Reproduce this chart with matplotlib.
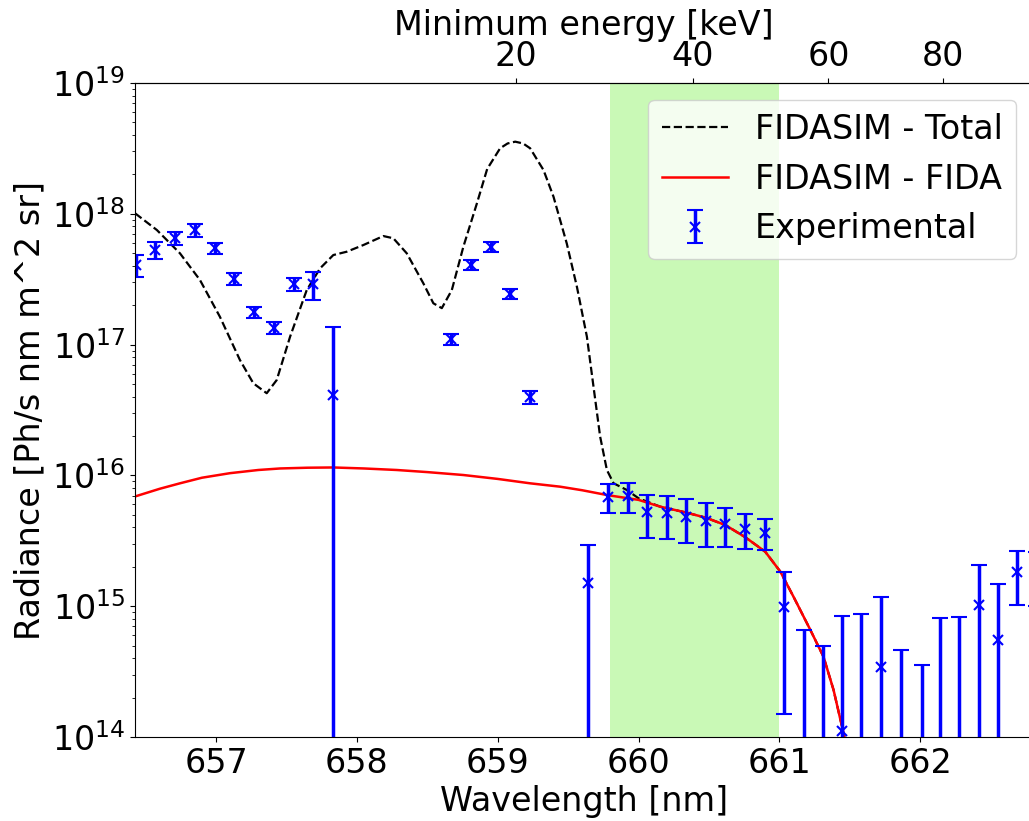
import numpy as np
import matplotlib
matplotlib.use('Agg')
import matplotlib.pyplot as plt

# FIDASIM total (knots); beyond ~660 nm it follows the FIDA curve
tot_wl = [656.425, 656.58, 656.744, 656.886, 657.028, 657.17, 657.265, 657.36,
          657.431, 657.526, 657.644, 657.739, 657.833, 657.928, 658.046, 658.188,
          658.259, 658.354, 658.472, 658.543, 658.603, 658.674, 658.756, 658.852,
          658.925, 659.017, 659.07, 659.124, 659.18, 659.23, 659.325, 659.396,
          659.49, 659.562, 659.633, 659.68, 659.727, 659.775, 659.822, 659.917, 660.0]
tot_val = [1.01e18, 7.52e17, 4.99e17, 3.12e17, 1.63e17, 7.62e16, 5.06e16, 4.25e16,
           5.36e16, 1.15e17, 2.61e17, 3.83e17, 4.84e17, 5.13e17, 5.77e17, 6.76e17,
           6.50e17, 4.99e17, 2.94e17, 2.07e17, 1.90e17, 2.61e17, 5.60e17, 1.20e18,
           2.20e18, 3.17e18, 3.45e18, 3.56e18, 3.45e18, 3.17e18, 2.16e18, 1.35e18,
           5.94e17, 2.77e17, 1.15e17, 4.76e16, 1.98e16, 1.10e16, 8.71e15, 7.73e15, 6.68e15]

# FIDASIM FIDA
fida_wl = [656.425, 656.6, 656.744, 656.9, 657.099, 657.3, 657.455, 657.65, 657.833,
           658.05, 658.283, 658.5, 658.756, 659.0, 659.23, 659.443, 659.6, 659.775,
           660.0, 660.153, 660.338, 660.477, 660.615, 660.757, 660.899, 661.006,
           661.10, 661.219, 661.313, 661.384, 661.45, 661.49]
fida_val = [6.9e15, 7.9e15, 8.7e15, 9.6e15, 1.04e16, 1.10e16, 1.13e16, 1.145e16, 1.15e16,
            1.13e16, 1.10e16, 1.06e16, 1.007e16, 9.4e15, 8.7e15, 8.2e15, 7.7e15, 7.08e15,
            6.5e15, 5.77e15, 5.2e15, 4.75e15, 4.18e15, 3.37e15, 2.61e15, 1.84e15,
            1.18e15, 6.6e14, 4.1e14, 2.29e14, 1.13e14, 7e13]

# experimental points and 1-sigma errors
exp_wl = [656.43, 656.567, 656.709, 656.851, 656.993, 657.128, 657.27, 657.41,
          657.554, 657.687, 657.833, 658.667, 658.809, 658.951, 659.088, 659.23,
          659.644, 659.786, 659.924, 660.063, 660.2, 660.338, 660.477, 660.615,
          660.757, 660.899, 661.034, 661.171, 661.306, 661.444, 661.58, 661.722,
          661.862, 662.011, 662.142, 662.277, 662.414, 662.551, 662.687, 662.82]
exp_val = [4.06e17, 5.28e17, 6.5e17, 7.5e17, 5.5e17, 3.2e17, 1.77e17, 1.35e17,
           2.9e17, 2.9e17, 4.12e16, 1.1e17, 4.08e17, 5.6e17, 2.45e17, 3.97e16,
           1.5e15, 6.87e15, 6.95e15, 5.22e15, 5.13e15, 4.83e15, 4.5e15, 4.25e15,
           3.89e15, 3.65e15, 9.9e14, -1.0e14, -2.0e14, 1.12e14, -0.5e14, 3.44e14,
           -3.0e14, -4.0e14, -1.0e14, -0.5e14, 1.02e15, 5.52e14, 1.82e15, 1.8e15]
exp_err = [0.78e17, 0.8e17, 0.7e17, 0.8e17, 0.53e17, 0.32e17, 0.18e17, 0.135e17,
           0.32e17, 0.72e17, 9.5e16, 0.11e17, 0.38e17, 0.52e17, 0.22e17, 0.43e16,
           1.44e15, 1.74e15, 1.8e15, 1.87e15, 1.85e15, 1.77e15, 1.67e15, 1.41e15,
           1.17e15, 0.96e15, 8.4e14, 7.6e14, 7.0e14, 7.3e14, 9.2e14, 8.3e14,
           7.6e14, 7.55e14, 9.1e14, 8.8e14, 1.03e15, 9.3e14, 0.8e15, 0.8e15]

band = (659.8, 661.0)
energy_ticks = [20, 40, 60, 80]

lam0 = 656.1
kfac = 0.5 * 1875613.0 / lam0 ** 2  # keV per nm^2 for deuterium


def wl2e(wl):
    d = np.asarray(wl, dtype=float) - lam0
    return kfac * d * np.abs(d)


def e2wl(e):
    e = np.asarray(e, dtype=float)
    return lam0 + np.sign(e) * np.sqrt(np.abs(e) / kfac)


plt.rcParams['font.size'] = 24
plt.rcParams['font.family'] = 'DejaVu Sans'

fig = plt.figure(figsize=(10.29, 8.21), dpi=100)
ax = fig.add_axes([0.1312, 0.1023, 0.8727, 0.7966])
ax.set_yscale('log')

tot_wl_full = np.concatenate([tot_wl, np.array(fida_wl)[np.array(fida_wl) > 660.05]])
tot_val_full = np.concatenate([tot_val, np.array(fida_val)[np.array(fida_wl) > 660.05]])

ax.axvspan(band[0], band[1], color='#c9f9b6', lw=0, zorder=0)
ax.plot(tot_wl_full, tot_val_full, 'k--', lw=1.6, label='FIDASIM - Total')
ax.plot(fida_wl, fida_val, 'r-', lw=1.8, label='FIDASIM - FIDA')
ax.errorbar(exp_wl, exp_val, yerr=exp_err, fmt='x', color='blue', ecolor='blue',
            elinewidth=2.5, capsize=6, capthick=2, markersize=7, mew=1.5,
            label='Experimental')

ax.set_xlim(656.425, 662.80)
ax.set_ylim(1e14, 1e19)
ax.set_xlabel('Wavelength [nm]')
ax.set_ylabel('Radiance [Ph/s nm m^2 sr]')

sec = ax.secondary_xaxis('top', functions=(wl2e, e2wl))
sec.set_xticks(energy_ticks)
sec.set_xlabel('Minimum energy [keV]')

ax.legend(loc='upper right')

fig.savefig('out.png', dpi=100)
